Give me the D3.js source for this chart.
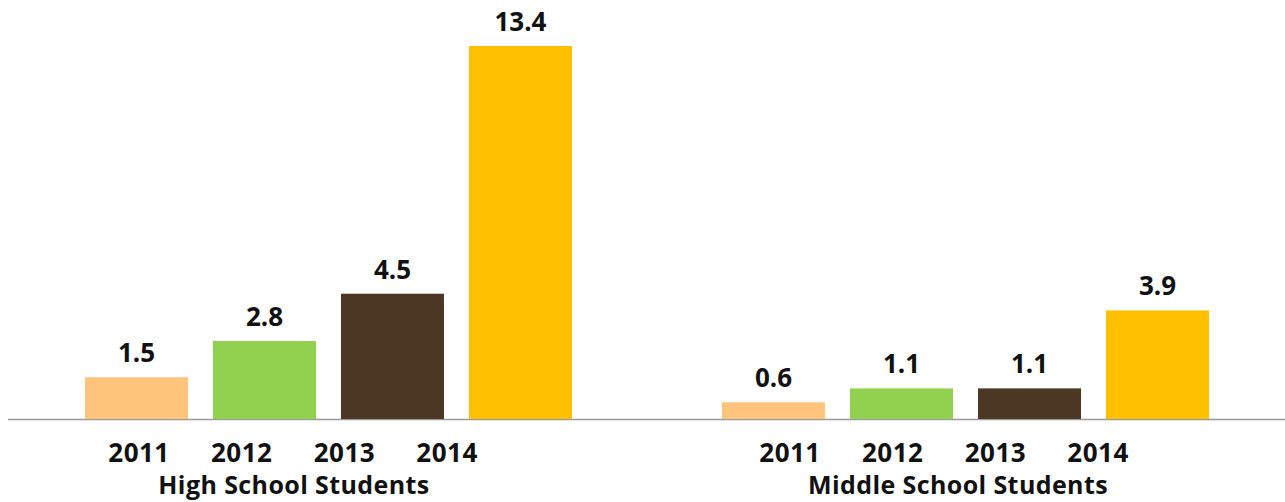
<!DOCTYPE html>
<html>
<head>
<meta charset="utf-8">
<script src="https://d3js.org/d3.v7.min.js"></script>
<style>
  body { margin: 0; background: #fff; }
  text { font-family: "Open Sans", sans-serif; font-weight: 700; fill: #111; }
</style>
</head>
<body>
<script>
// data
var groups = ["High School Students", "Middle School Students"];
var years = ["2011", "2012", "2013", "2014"];
var highSchool = [1.5, 2.8, 4.5, 13.4];
var middleSchool = [0.6, 1.1, 1.1, 3.9];
var colors = ["#FEC47C", "#92D050", "#4B3723", "#FFC000"];

var series = [highSchool, middleSchool];

var width = 1285, height = 502;
var baseY = 419;

var svg = d3.select("body").append("svg")
  .attr("width", width)
  .attr("height", height);

// group scale: each group gets a block, bars live inside it
var x0 = d3.scaleBand().domain(groups).range([85, 1359]).padding(0);
var x1 = d3.scaleBand().domain(years).range([0, 487]).paddingInner(0.195).paddingOuter(0);
var y = d3.scaleLinear().domain([0, 13.4]).range([baseY, 46]);

// year labels sit a bit left of the bars in the original
var labelStart = { "High School Students": 139, "Middle School Students": 790 };
var labelStep = 102.7;
var titleX = { "High School Students": 294, "Middle School Students": 958 };

// baseline
var xAxis = d3.scaleLinear().domain([0, 1]).range([8, width]);
svg.append("line")
  .attr("x1", xAxis(0)).attr("x2", xAxis(1))
  .attr("y1", baseY + 0.5).attr("y2", baseY + 0.5)
  .attr("stroke", "#9a9a9a")
  .attr("stroke-width", 1.6);

var g = svg.selectAll("g.group")
  .data(groups)
  .enter().append("g")
  .attr("class", "group")
  .attr("transform", function(d) { return "translate(" + x0(d) + ",0)"; });

g.selectAll("rect")
  .data(function(d, i) { return series[i].map(function(v, j) { return { year: years[j], value: v, idx: j }; }); })
  .enter().append("rect")
  .attr("x", function(d) { return x1(d.year); })
  .attr("width", x1.bandwidth())
  .attr("y", function(d) { return y(d.value); })
  .attr("height", function(d) { return baseY - y(d.value); })
  .attr("fill", function(d) { return colors[d.idx]; });

g.selectAll("text.val")
  .data(function(d, i) { return series[i].map(function(v, j) { return { year: years[j], value: v }; }); })
  .enter().append("text")
  .attr("class", "val")
  .attr("x", function(d) { return x1(d.year) + x1.bandwidth() / 2; })
  .attr("y", function(d) { return y(d.value) - 15; })
  .attr("text-anchor", "middle")
  .style("font-size", "26px")
  .text(function(d) { return d3.format(".1f")(d.value); });

// year labels
groups.forEach(function(grp) {
  svg.selectAll(null)
    .data(years)
    .enter().append("text")
    .attr("x", function(d, i) { return labelStart[grp] + i * labelStep; })
    .attr("y", 462)
    .attr("text-anchor", "middle")
    .style("font-size", "26px")
    .style("letter-spacing", "0.5px")
    .text(function(d) { return d; });

  svg.append("text")
    .attr("x", titleX[grp])
    .attr("y", 494)
    .attr("text-anchor", "middle")
    .style("font-size", "25px")
    .style("letter-spacing", "0.4px")
    .text(grp);
});
</script>
</body>
</html>
